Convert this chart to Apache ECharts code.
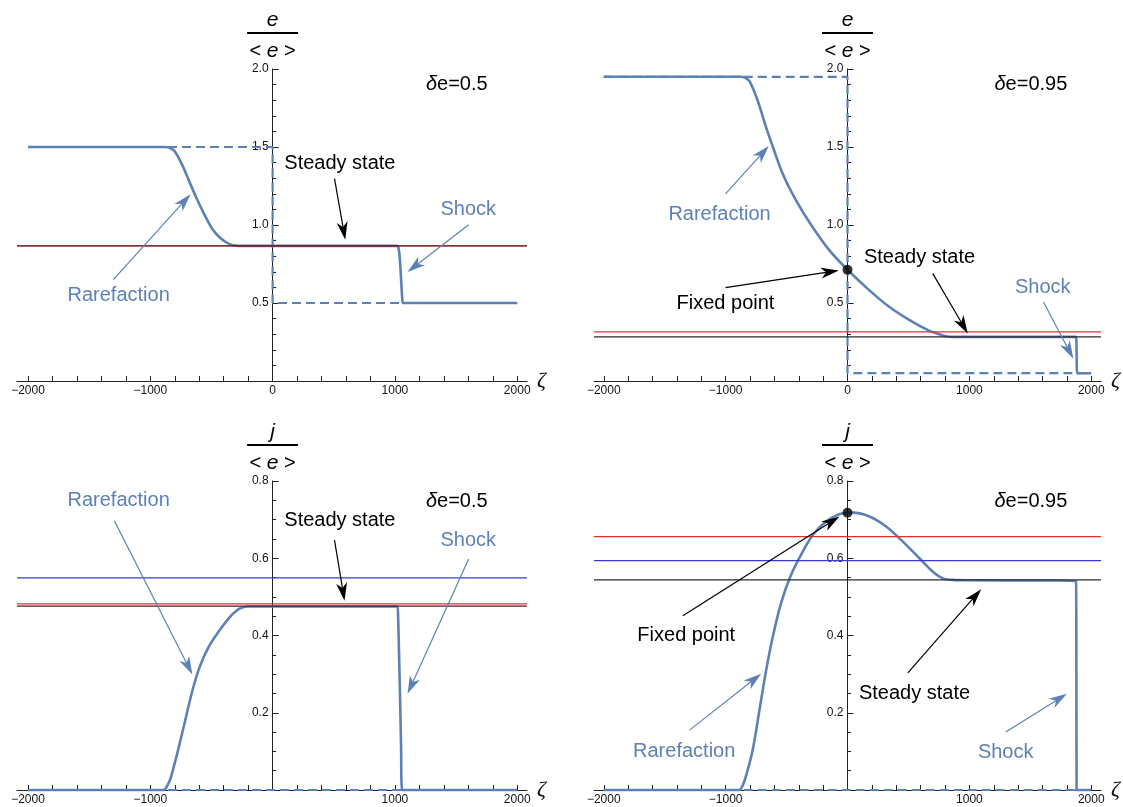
<!DOCTYPE html>
<html><head><meta charset="utf-8">
<script src="https://cdn.jsdelivr.net/npm/echarts@6/dist/echarts.min.js"></script>
<style>html,body{margin:0;padding:0;background:#fff}#c{width:1123px;height:807px}</style>
</head><body><div id="c"></div>
<script>
// ---------------- DATA ----------------
// x-axis ticks / labels
const xTickValues = [-2000,-1800,-1600,-1400,-1200,-1000,-800,-600,-400,-200,0,200,400,600,800,1000,1200,1400,1600,1800,2000];
const xLabelsTop = [-2000,-1000,0,1000,2000];
const xLabelsBottom = [-2000,-1000,1000,2000];

// Panel A: e/<e>, δe = 0.5
const aZeta = [-2000,-876,-860,-840,-803,-744,-685,-626,-568,-494,-421,-347,-300,-259,1020,1028,1036,1044,1052,1060,1066,2000];
const aVal  = [1.5,1.5,1.499,1.494,1.475,1.393,1.286,1.179,1.083,0.976,0.912,0.876,0.868,0.866,0.866,0.858,0.82,0.74,0.63,0.53,0.5,0.5];
const aInitZeta = [-2000,0,0,2000];
const aInitVal  = [1.5,1.5,0.5,0.5];
const aRefRed = 0.866, aRefBlack = 0.866;

// Panel B: e/<e>, δe = 0.95
const bZeta = [-2000,-872,-840,-804,-736,-667,-612,-531,-421,-298,-148,0,180,345,509,673,760,809,864,1000,1876,1879,1881,1884,2000];
const bVal  = [1.95,1.95,1.943,1.922,1.795,1.624,1.5,1.327,1.156,1.0,0.837,0.713,0.581,0.474,0.39,0.321,0.298,0.287,0.283,0.283,0.283,0.22,0.12,0.05,0.05];
const bInitZeta = [-2000,0,0,2000];
const bInitVal  = [1.95,1.95,0.05,0.05];
const bRefRed = 0.315, bRefBlack = 0.283;
const bFixed = [0, 0.713];

// Panel C: j/<e>, δe = 0.5
const cZeta = [-2000,-891,-860,-832,-774,-715,-656,-597,-524,-435,-347,-300,-259,-200,1020,1026,1034,1042,1050,1059,2000];
const cVal  = [0,0,0.012,0.033,0.102,0.18,0.257,0.318,0.37,0.413,0.449,0.463,0.471,0.475,0.475,0.45,0.35,0.24,0.12,0,0];
const cInitZeta = [-2000,2000];
const cInitVal  = [0,0];
const cRefBlue = 0.549, cRefRed = 0.482, cRefBlack = 0.476;

// Panel D: j/<e>, δe = 0.95
const dZeta = [-2000,-888,-860,-833,-777,-722,-667,-613,-545,-463,-367,-285,-176,-68,43,180,317,454,590,700,782,864,1000,1875,1878,1880,2000];
const dVal  = [0,0,0.012,0.036,0.105,0.208,0.311,0.397,0.484,0.557,0.617,0.66,0.695,0.714,0.718,0.708,0.682,0.643,0.6,0.565,0.548,0.544,0.543,0.541,0.3,0,0];
const dInitZeta = [-2000,2000];
const dInitVal  = [0,0];
const dRefRed = 0.656, dRefBlue = 0.594, dRefBlack = 0.544;
const dFixed = [0, 0.718];

// annotations: [text, zeta, value, tone]
const aLabels = [['{i|δ}e=0.5',1506,1.90,'k'],['Steady state',550,1.397,'k'],['Shock',1600,1.098,'b'],['Rarefaction',-1259,0.549,'b']];
const aArrows = [[506,1.297,594,0.906,'k'],[1603,1.002,1103,0.699,'b'],[-1303,0.650,-671,1.197,'b']];
const bLabels = [['{i|δ}e=0.95',1505,1.90,'k'],['Rarefaction',-1050,1.066,'b'],['Fixed point',-1001,0.496,'k'],['Steady state',591,0.794,'k'],['Shock',1602,0.598,'b']];
const bArrows = [[-1001,1.199,-646,1.507,'b'],[-1001,0.598,-71,0.709,'k'],[700,0.688,987,0.305,'k'],[1608,0.506,1853,0.143,'b']];
const cLabels = [['Rarefaction',-1259,0.749,'b'],['{i|δ}e=0.5',1506,0.747,'k'],['Steady state',550,0.697,'k'],['Shock',1600,0.647,'b']];
const cArrows = [[-1294,0.697,-656,0.299,'b'],[506,0.647,588,0.49,'k'],[1603,0.598,1103,0.249,'b']];
const dLabels = [['{i|δ}e=0.95',1505,0.747,'k'],['Fixed point',-1323,0.399,'k'],['Steady state',550,0.251,'k'],['Rarefaction',-1340,0.099,'b'],['Shock',1298,0.098,'b']];
const dArrows = [[-1351,0.451,-66,0.708,'k'],[495,0.303,1097,0.52,'k'],[-1296,0.155,-708,0.301,'b'],[1298,0.150,1800,0.249,'b']];

// ---------------- STYLE / LAYOUT ----------------
const FONT = 'Liberation Sans, Arial, sans-serif';
const BLUE = '#5E81B5';
const TONE = {k:'#000000', b:BLUE};
const REFCOL = {red:'#e3302c', black:'#2a2a2a', blue:'#3a3ad0'};
const grids = [
  {left:17, top:69, width:510, height:312},
  {left:594, top:69, width:507, height:312},
  {left:17, top:481, width:510, height:309},
  {left:594, top:481, width:507, height:309}
];
const xRanges = [[-2090,2080],[-2080,2080],[-2090,2080],[-2080,2080]];

const zip = (a,b) => a.map((v,i)=>[v,b[i]]);

const panels = [
  {curve:zip(aZeta,aVal), init:zip(aInitZeta,aInitVal), refs:[['red',aRefRed],['blackT',aRefBlack]], labels:aLabels, arrows:aArrows, fixed:null, top:true, num:'e'},
  {curve:zip(bZeta,bVal), init:zip(bInitZeta,bInitVal), refs:[['red',bRefRed],['black',bRefBlack]], labels:bLabels, arrows:bArrows, fixed:bFixed, top:true, num:'e'},
  {curve:zip(cZeta,cVal), init:zip(cInitZeta,cInitVal), refs:[['blue',cRefBlue],['red',cRefRed],['black',cRefBlack]], labels:cLabels, arrows:cArrows, fixed:null, top:false, num:'j'},
  {curve:zip(dZeta,dVal), init:zip(dInitZeta,dInitVal), refs:[['red',dRefRed],['blue',dRefBlue],['black',dRefBlack]], labels:dLabels, arrows:dArrows, fixed:dFixed, top:false, num:'j'}
];

const xAxes = [], yAxes = [], series = [];
panels.forEach((p, i) => {
  const g = grids[i], r = xRanges[i];
  const zeroOffset = (0 - r[0]) / (r[1] - r[0]) * g.width; // pixel distance of ζ=0 from grid left
  xAxes.push({
    type:'value', gridIndex:i, min:r[0], max:r[1],
    axisLine:{show:true, onZero:false, lineStyle:{color:'#222', width:1}},
    axisTick:{show:true, inside:true, length:5, customValues:xTickValues, lineStyle:{color:'#222', width:1}},
    axisLabel:{show:true, customValues: p.top ? xLabelsTop : xLabelsBottom, margin:4, color:'#111', fontSize:12, fontFamily:FONT,
      formatter: v => String(v).replace('-', '\u2212')},
    splitLine:{show:false},
    name:'ζ', nameLocation:'end', nameGap:10,
    nameTextStyle:{fontFamily:'Liberation Serif, DejaVu Serif, serif', fontStyle:'italic', fontSize:22, color:'#111'}
  });
  yAxes.push({
    type:'value', gridIndex:i, min:0, max: p.top ? 2 : 0.8, interval: p.top ? 0.5 : 0.2,
    position:'left', offset: -zeroOffset,
    axisLine:{show:true, onZero:false, lineStyle:{color:'#222', width:1}},
    axisTick:{show:true, inside:true, length:6, lineStyle:{color:'#222', width:1}},
    minorTick:{show:true, splitNumber: p.top ? 5 : 4, length:3.5, lineStyle:{color:'#222', width:1}},
    axisLabel:{margin:4, color:'#111', fontSize:12, fontFamily:FONT, formatter: v => v === 0 ? '' : v.toFixed(1)},
    splitLine:{show:false},
    name:'{n|' + p.num + '}\n{bar| }\n{d|< }{di|e}{d| >}',
    nameLocation:'end', nameGap:4,
    nameTextStyle:{
      align:'center',
      rich:{
        n:{fontFamily:FONT, fontStyle:'italic', fontSize:21, lineHeight:18, color:'#000'},
        bar:{width:51, height:2, backgroundColor:'#000', lineHeight:8, fontSize:2},
        d:{fontFamily:FONT, fontSize:20, lineHeight:28, color:'#000'},
        di:{fontFamily:FONT, fontStyle:'italic', fontSize:21, lineHeight:28, color:'#000'}
      }
    }
  });
  // initial step (dashed)
  series.push({type:'line', xAxisIndex:i, yAxisIndex:i, data:p.init, symbol:'none', silent:true, clip:false, z:2,
    lineStyle:{color:BLUE, width:2.2, type:[9,5]}});
  // solution curve
  series.push({type:'line', xAxisIndex:i, yAxisIndex:i, data:p.curve, symbol:'none', silent:true, clip:false, z:3,
    smooth:0.3,
    lineStyle:{color:BLUE, width:2.6, join:'round'}});
  // reference horizontal lines
  p.refs.forEach(([kind, v]) => {
    const col = kind === 'blackT' ? 'rgba(0,0,0,0.6)' : REFCOL[kind];
    series.push({type:'line', xAxisIndex:i, yAxisIndex:i, data:[[r[0], v],[r[1], v]], symbol:'none', silent:true, z:4,
      lineStyle:{color:col, width: kind==='red' ? 1.4 : 1.2}});
  });
  // arrows
  const arr = p.arrows;
  series.push({type:'custom', xAxisIndex:i, yAxisIndex:i, silent:true, z:5, clip:false,
    data: arr.map(a => [a[0],a[1],a[2],a[3]]),
    encode:{x:[0,2], y:[1,3]},
    renderItem:(params, api) => {
      const a = arr[params.dataIndex];
      const col = TONE[a[4]];
      const p1 = api.coord([a[0],a[1]]), p2 = api.coord([a[2],a[3]]);
      const dx = p2[0]-p1[0], dy = p2[1]-p1[1], len = Math.hypot(dx,dy);
      const ux = dx/len, uy = dy/len, nx = -uy, ny = ux;
      const L = 18, W = 11;
      const bx = p2[0]-ux*L, by = p2[1]-uy*L;
      const mx = p2[0]-ux*L*0.72, my = p2[1]-uy*L*0.72;
      return {type:'group', children:[
        {type:'line', shape:{x1:p1[0], y1:p1[1], x2:mx, y2:my}, style:{stroke:col, lineWidth:1.2}},
        {type:'polygon', shape:{points:[[p2[0],p2[1]],[bx+nx*W/2, by+ny*W/2],[mx,my],[bx-nx*W/2, by-ny*W/2]]}, style:{fill:col}}
      ]};
    }
  });
  // text labels
  const lab = p.labels;
  series.push({type:'custom', xAxisIndex:i, yAxisIndex:i, silent:true, z:6, clip:false,
    data: lab.map(l => [l[1], l[2]]),
    renderItem:(params, api) => {
      const l = lab[params.dataIndex];
      const pt = api.coord([l[1], l[2]]);
      return {type:'text', style:{text:l[0], x:pt[0], y:pt[1], align:'center', verticalAlign:'middle',
        fill:TONE[l[3]], fontSize:20, fontFamily:FONT,
        rich:{i:{fontStyle:'italic', fontSize:20, fontFamily:FONT, fill:TONE[l[3]]}}}};
    }
  });
  if (p.fixed) {
    series.push({type:'scatter', xAxisIndex:i, yAxisIndex:i, data:[p.fixed], symbol:'circle', symbolSize:10, silent:true, z:7,
      itemStyle:{color:'#000'}});
  }
});

const chart = echarts.init(document.getElementById('c'), null, {renderer:'canvas'});
chart.setOption({
  animation:false,
  backgroundColor:'#ffffff',
  grid: grids.map(g => Object.assign({outerBoundsMode:'none', containLabel:false}, g)),
  xAxis: xAxes,
  yAxis: yAxes,
  series: series
});
</script>
</body></html>
